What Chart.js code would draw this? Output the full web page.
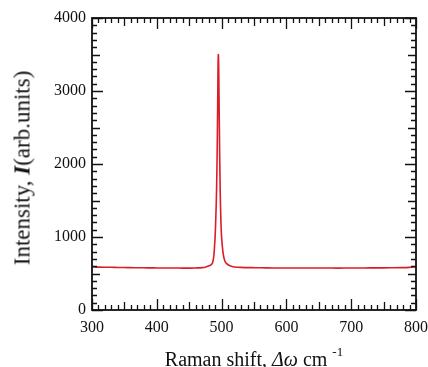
<!DOCTYPE html>
<html lang="en">
<head>
    <meta charset="UTF-8" />
    <title>Raman spectrum</title>
    <script src="https://cdn.jsdelivr.net/npm/chart.js"></script>
    <style>
        html, body { margin: 0; padding: 0; background: #fff; }
        #wrap { position: relative; width: 428px; height: 367px; overflow: hidden; }
        #wrap canvas { position: absolute; left: 0; top: 0; }
        .axis-title {
            position: absolute;
            font-family: 'Liberation Serif', 'Times New Roman', serif;
            color: #111;
            white-space: nowrap;
        }
        #yTitle { left: 22px; top: 168px; font-size: 23px; line-height: 23px; transform: translate(-50%, -50%) rotate(-90deg); }
        #xTitle { left: 254px; top: 349px; font-size: 20px; line-height: 20px; transform: translateX(-50%); }
        .sup { position: relative; top: -10px; font-size: 13px; }
    </style>
</head>
<body>
    <div id="wrap">
        <canvas id="spectrum" width="428" height="367"></canvas>
        <div id="yTitle" class="axis-title">Intensity, <b><i>I</i></b>(arb.units)</div>
        <div id="xTitle" class="axis-title">Raman shift, <i>Δω</i> cm <span class="sup">-1</span></div>
    </div>

    <script>
        // Raman shift (cm^-1) and intensity
        const shift = [300, 310, 320, 330, 340, 350, 360, 370, 380, 390, 400, 410, 420, 430, 440, 450, 460, 470, 476, 480, 483, 486, 488, 489, 490, 491, 492, 493, 494, 494.5, 495, 495.5, 496, 497, 498, 499, 500, 502, 504, 506, 510, 515, 520, 530, 545, 560, 580, 600, 620, 640, 660, 680, 700, 720, 740, 760, 780, 790, 800];
        const intensity = [592, 588, 586, 585, 583, 582, 580, 579, 578, 577, 576, 576, 575, 575, 574, 574, 576, 580, 590, 603, 615, 645, 740, 860, 1000, 1250, 1550, 2050, 2850, 3320, 3500, 3350, 2950, 2150, 1550, 1200, 1000, 800, 700, 655, 620, 600, 590, 584, 580, 578, 576, 575, 575, 576, 575, 574, 575, 576, 577, 578, 580, 584, 590];

        const xMin = 300, xMax = 800, xStep = 100;
        const yMin = 0, yMax = 4000, yStep = 1000;

        const points = shift.map((s, i) => ({ x: s, y: intensity[i] }));

        Chart.defaults.font.family = "'Liberation Serif', 'Times New Roman', serif";
        Chart.defaults.color = '#111';

        // box frame with inward ticks on all four sides
        const frameTicks = {
            id: 'frameTicks',
            afterDraw(chart) {
                const { ctx, chartArea: a, scales: { x, y } } = chart;
                ctx.save();
                ctx.strokeStyle = '#111';
                ctx.lineWidth = 1.3;
                ctx.beginPath();
                for (let v = xMin; v <= xMax; v += 10) {
                    const len = v % 100 === 0 ? 11 : (v % 50 === 0 ? 8 : 5);
                    const px = Math.round(x.getPixelForValue(v)) + 0.5;
                    ctx.moveTo(px, a.bottom); ctx.lineTo(px, a.bottom - len);
                    ctx.moveTo(px, a.top); ctx.lineTo(px, a.top + len);
                }
                for (let v = yMin; v <= yMax; v += 100) {
                    const len = v % 1000 === 0 ? 11 : (v % 500 === 0 ? 8 : 5);
                    const py = Math.round(y.getPixelForValue(v)) + 0.5;
                    ctx.moveTo(a.left, py); ctx.lineTo(a.left + len, py);
                    ctx.moveTo(a.right, py); ctx.lineTo(a.right - len, py);
                }
                ctx.stroke();
                ctx.lineWidth = 1.8;
                ctx.strokeRect(a.left, a.top, a.right - a.left, a.bottom - a.top);
                ctx.restore();
            }
        };

        new Chart(document.getElementById('spectrum'), {
            type: 'line',
            data: {
                datasets: [{
                    data: points,
                    borderColor: 'rgb(218, 30, 40)',
                    borderWidth: 1.6,
                    pointRadius: 0,
                    tension: 0.3,
                    fill: false
                }]
            },
            options: {
                responsive: false,
                animation: false,
                devicePixelRatio: 1,
                layout: { padding: { top: 18, right: 12, left: 0, bottom: 0 } },
                plugins: { legend: { display: false }, tooltip: { enabled: false } },
                scales: {
                    x: {
                        type: 'linear',
                        min: xMin,
                        max: xMax,
                        ticks: { stepSize: xStep, padding: 8, maxRotation: 0, font: { size: 16 }, callback: (v) => String(v) },
                        grid: { display: false, drawTicks: false, tickLength: 0 },
                        border: { display: false },
                        afterFit: (s) => { s.height = 57; s.paddingLeft = 0; s.paddingRight = 0; }
                    },
                    y: {
                        min: yMin,
                        max: yMax,
                        ticks: { stepSize: yStep, padding: 6, font: { size: 16 }, callback: (v) => String(v) },
                        grid: { display: false, drawTicks: false, tickLength: 0 },
                        border: { display: false },
                        afterFit: (s) => { s.width = 92; s.paddingTop = 0; s.paddingBottom = 0; }
                    }
                }
            },
            plugins: [frameTicks]
        });
    </script>
</body>
</html>
